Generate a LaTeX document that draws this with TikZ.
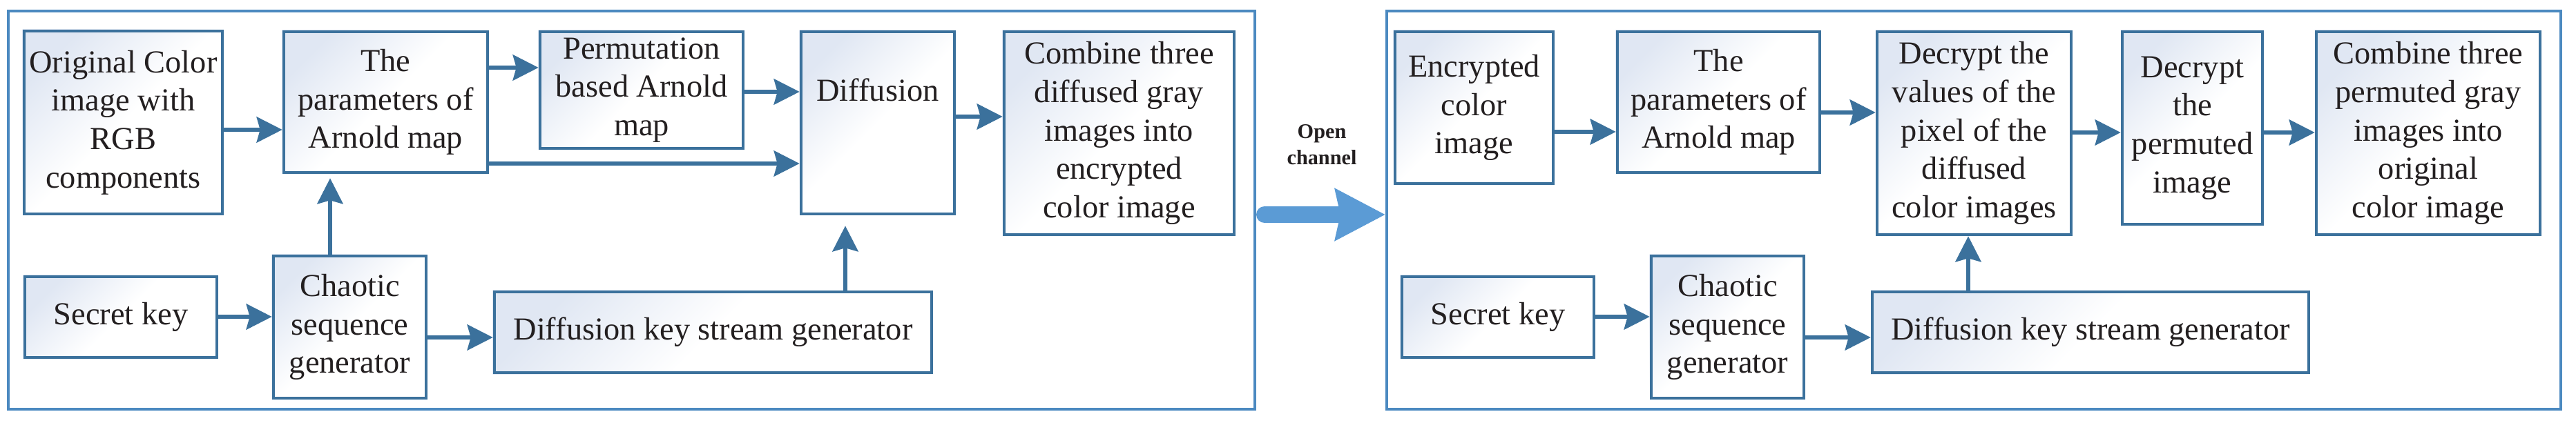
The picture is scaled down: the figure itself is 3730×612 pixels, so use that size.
\documentclass[tikz,border=0pt]{standalone}
\usepackage{fontspec}
\setmainfont{Liberation Serif}
\newfontfamily\tnr{Liberation Serif}
\usetikzlibrary{arrows.meta,backgrounds}
\definecolor{boxc}{RGB}{59,113,156}
\definecolor{framec}{RGB}{75,137,192}
\definecolor{bigc}{RGB}{91,155,213}
\definecolor{tint}{RGB}{224,231,243}
\definecolor{txt}{RGB}{35,31,32}
\tikzset{
  blk/.style 2 args={draw=boxc, line width=1.3pt,
    align=center, inner sep=0pt, text=txt, font=\tnr\fontsize{13.2}{15.8}\selectfont,
    minimum width=#1*0.01cm, minimum height=#2*0.01cm},
  tintfill/.style={top color=tint, bottom color=white, middle color=white, shading angle=45},
  frm/.style 2 args={draw=framec, line width=1.15pt, inner sep=0pt, minimum width=#1*0.01cm, minimum height=#2*0.01cm},
  arr/.style={draw=boxc, line width=1.7pt, -{Stealth[length=0.37cm,width=0.37cm,inset=0.05cm]}},
  bigarr/.style={draw=bigc, line width=0.24cm, line cap=round, -{Stealth[length=0.72cm,width=0.73cm,inset=0.07cm]}},
}
\begin{document}
\begin{tikzpicture}[x=0.01cm,y=-0.01cm]
\useasboundingbox (0,0) rectangle (3730,612);
% frames
\node[frm={1805}{577}] (lframe) at (914.5,304.5) {};
\node[frm={1700}{577}] (rframe) at (2858,304.5) {};
% left part
\node[blk={287}{265}] (orig) at (178.5,177.5) {Original Color\\image with\\RGB\\components};
\node[blk={295}{204}] (params1) at (558.5,148) {The\\parameters of\\Arnold map};
\node[blk={294}{169}] (perm) at (929,130.5) {Permutation\\based Arnold\\map};
\node[blk={222}{264}] (diff) at (1271,178) {\raisebox{9pt}[0pt][0pt]{Diffusion}};
\node[blk={333}{294}] (comb1) at (1620.5,193) {Combine three\\diffused gray\\images into\\encrypted\\color image};
\node[blk={278}{117}] (secret1) at (175,459.5) {Secret key};
\node[blk={221}{206}] (chaotic1) at (506.5,474) {Chaotic\\sequence\\generator};
\node[blk={633}{117}] (dks1) at (1032.5,481.5) {Diffusion key stream generator};
% right part
\node[blk={229}{220}] (enc) at (2134.5,156) {Encrypted\\color\\image};
\node[blk={293}{204}] (params2) at (2488.5,148) {The\\parameters of\\Arnold map};
\node[blk={281}{294}] (decv) at (2858.5,193) {Decrypt the\\values of the\\pixel of the\\diffused\\color images};
\node[blk={203}{279}] (decp) at (3174.5,185.5) {Decrypt\\the\\permuted\\image};
\node[blk={324}{294}] (comb2) at (3516,193) {Combine three\\permuted gray\\images into\\original\\color image};
\node[blk={278}{117}] (secret2) at (2169,459.5) {Secret key};
\node[blk={221}{206}] (chaotic2) at (2501.5,474) {Chaotic\\sequence\\generator};
\node[blk={632}{117}] (dks2) at (3027,481.5) {Diffusion key stream generator};
% gradient fills behind the boxes
\begin{scope}[on background layer]
\foreach \b in {orig,params1,perm,diff,comb1,secret1,chaotic1,dks1,enc,params2,decv,decp,comb2,secret2,chaotic2,dks2}
  \shade[tintfill] (\b.south west) rectangle (\b.north east);
\end{scope}
% open channel
\node[align=center, text=txt, inner sep=0pt, font=\tnr\fontsize{8.6}{10.8}\selectfont\bfseries] (open) at (1914,210) {Open\\channel};
% arrows left
\draw[arr] (orig.east |- 0,188) -- (params1.west |- 0,188);
\draw[arr] (params1.east |- 0,98) -- (perm.west |- 0,98);
\draw[arr] (perm.east |- 0,133) -- (diff.west |- 0,133);
\draw[arr] (params1.east |- 0,237) -- (diff.west |- 0,237);
\draw[arr] (diff.east |- 0,169) -- (comb1.west |- 0,169);
\draw[arr, shorten >=0.06cm] (chaotic1.north -| 478,0) -- (params1.south -| 478,0);
\draw[arr] (secret1.east |- 0,459) -- (chaotic1.west |- 0,459);
\draw[arr] (chaotic1.east |- 0,489) -- (dks1.west |- 0,489);
\draw[arr, shorten >=0.15cm] (dks1.north -| 1224,0) -- (diff.south -| 1224,0);
% channel
\draw[bigarr, shorten <=0.12cm] (lframe.east |- 0,311) -- (rframe.west |- 0,311);
% arrows right
\draw[arr] (enc.east |- 0,191) -- (params2.west |- 0,191);
\draw[arr] (params2.east |- 0,163) -- (decv.west |- 0,163);
\draw[arr] (decv.east |- 0,192) -- (decp.west |- 0,192);
\draw[arr] (decp.east |- 0,192) -- (comb2.west |- 0,192);
\draw[arr] (secret2.east |- 0,459) -- (chaotic2.west |- 0,459);
\draw[arr] (chaotic2.east |- 0,489) -- (dks2.west |- 0,489);
\draw[arr] (dks2.north -| 2850,0) -- (decv.south -| 2850,0);
\end{tikzpicture}
\end{document}
